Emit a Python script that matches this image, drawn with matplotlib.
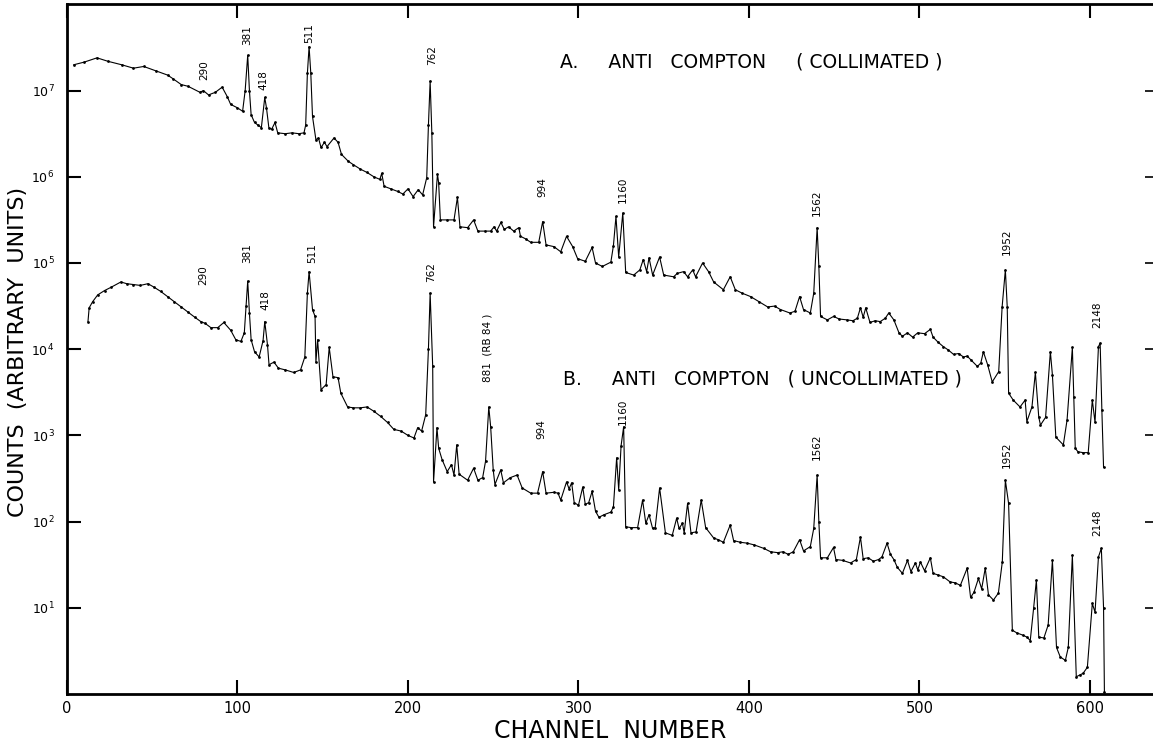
import numpy as np
import matplotlib
matplotlib.use("Agg")
import matplotlib.pyplot as plt

# ---------------- data ----------------
chan_a = [4, 10, 17.6, 24, 32, 39, 45, 52, 59, 62, 67, 71, 78, 80, 83, 87, 91, 94, 96, 100,
          103, 104.5, 106, 107, 108, 110, 112, 114, 116, 117, 118.4, 120, 122, 123.6, 128, 132,
          136, 139, 140, 141, 142, 143, 144, 146, 147.5, 149, 151, 152.5, 156.6, 159, 161, 165,
          168, 172, 176, 180, 183.5, 184.6, 186, 190, 194, 197, 200, 203, 206, 208.6, 211, 212,
          213, 214, 215, 217.3, 218, 219, 223, 227, 229, 230.5, 235, 238.5, 241, 245, 248.5,
          250.5, 252, 254.5, 256.5, 259, 262, 265, 266, 269, 272, 276.7, 279, 281, 285.6, 289.6,
          293, 296.6, 299.5, 304, 308, 310, 314, 319, 320.5, 322, 323.6, 326, 327.7, 332.4, 336,
          338, 340, 341.4, 343.5, 347.6, 350, 355.8, 358, 361.7, 364, 367, 368.7, 372.8, 376.3,
          379.3, 385, 389, 392, 396, 401, 406, 411, 415, 418.5, 424, 427, 429.7, 432, 436, 438,
          440, 441, 442, 446, 449.6, 453, 457.6, 461, 463.6, 465.4, 467, 468.5, 471, 474, 477,
          480, 482, 485, 488, 490, 493, 496, 499, 503, 506.4, 508, 511, 514, 517, 520, 523,
          525.8, 528, 530, 534, 536, 537.5, 540, 542.7, 546.5, 548.5, 550.4, 551.5, 552.3, 555,
          559, 562, 563, 566, 568, 570, 571, 574, 576.8, 578, 580, 584.4, 586.6, 589.7, 590.5,
          591.4, 593, 596, 599, 601.4, 603, 605, 606, 607, 608]
log_a = [7.30, 7.33, 7.38, 7.34, 7.30, 7.26, 7.28, 7.23, 7.18, 7.14, 7.07, 7.05, 6.98, 7.00,
         6.95, 6.98, 7.04, 6.93, 6.84, 6.80, 6.76, 7.00, 7.41, 7.00, 6.72, 6.63, 6.60, 6.57,
         6.92, 6.80, 6.57, 6.55, 6.63, 6.51, 6.50, 6.51, 6.50, 6.51, 6.60, 7.20, 7.51, 7.20,
         6.70, 6.43, 6.45, 6.34, 6.40, 6.35, 6.45, 6.40, 6.26, 6.18, 6.14, 6.09, 6.05, 6.00,
         5.97, 6.04, 5.89, 5.86, 5.83, 5.80, 5.86, 5.77, 5.85, 5.79, 5.99, 6.60, 7.11, 6.51,
         5.42, 6.03, 5.93, 5.50, 5.50, 5.50, 5.76, 5.42, 5.41, 5.50, 5.37, 5.37, 5.37, 5.42,
         5.37, 5.47, 5.39, 5.42, 5.37, 5.41, 5.31, 5.28, 5.24, 5.24, 5.48, 5.21, 5.19, 5.13,
         5.31, 5.19, 5.05, 5.02, 5.18, 5.00, 4.96, 5.01, 5.20, 5.54, 5.07, 5.58, 4.89, 4.86,
         4.92, 5.04, 4.90, 5.06, 4.86, 5.07, 4.86, 4.84, 4.88, 4.90, 4.84, 4.92, 4.84, 5.00,
         4.90, 4.78, 4.69, 4.84, 4.69, 4.65, 4.61, 4.55, 4.49, 4.50, 4.46, 4.42, 4.44, 4.61,
         4.46, 4.42, 4.65, 5.41, 4.96, 4.38, 4.34, 4.38, 4.35, 4.34, 4.33, 4.36, 4.48, 4.37,
         4.48, 4.31, 4.33, 4.32, 4.36, 4.42, 4.34, 4.19, 4.15, 4.19, 4.14, 4.19, 4.18, 4.23,
         4.14, 4.08, 4.03, 3.99, 3.94, 3.95, 3.91, 3.92, 3.88, 3.80, 3.84, 3.97, 3.82, 3.62,
         3.74, 4.49, 4.92, 4.49, 3.49, 3.41, 3.33, 3.41, 3.16, 3.33, 3.73, 3.21, 3.12, 3.21,
         3.97, 3.70, 2.98, 2.89, 3.18, 4.02, 3.45, 2.85, 2.81, 2.80, 2.80, 3.41, 3.15, 4.03,
         4.07, 3.30, 2.63]
counts_a = [10 ** v for v in log_a]

chan_b = [12.3, 13, 15, 18, 22, 26, 31.6, 35, 39, 43, 47.5, 51, 55, 59, 63, 67, 71, 75, 78.5,
          81, 84.4, 88.4, 92, 96, 99, 102, 104, 105, 106, 107, 108, 110, 112.7, 115, 116, 117.6,
          118.5, 121.4, 124, 128, 133, 137, 139.5, 141, 142, 144, 145.5, 146, 147, 149, 152,
          153.8, 156, 159, 160.6, 164.6, 168, 172, 176, 180, 184, 188, 191.7, 196, 200, 203.5,
          205.7, 208, 210.4, 212, 213, 214.5, 215, 217, 218, 220, 223, 225.5, 227, 228.6, 230,
          235, 238.5, 241, 243.8, 245.5, 247.4, 248.5, 250, 251, 254.4, 256, 260, 264, 267, 272,
          276, 279, 281, 285.6, 288, 289.6, 293, 294.5, 296, 297.5, 300, 302.5, 304, 306, 308,
          310, 312, 315, 319, 320.5, 322.4, 323.6, 325, 326.5, 327.7, 331, 334.7, 337.6, 339.5,
          341.4, 343.5, 345, 347.6, 351, 355, 357.6, 359, 361, 362, 364, 366, 369, 372, 374.6,
          379.3, 382, 385, 389, 391, 395, 399, 403, 408.6, 412.7, 416.8, 420, 423, 426, 429.7,
          432, 436, 438, 440, 441, 442, 446, 449.6, 451, 455, 459.6, 463, 465.4, 467, 470, 473,
          476, 478, 481, 483, 485, 487, 490, 493, 495, 497.6, 499, 500.6, 503, 506.4, 508, 511,
          514, 518, 521, 524, 528, 530, 532, 534.6, 536.5, 538.6, 540.5, 543.4, 546.3, 548.6,
          550.4, 552.3, 554.5, 557, 561, 563, 565, 567, 568.6, 570, 573, 575.5, 578, 580.4,
          582.6, 585.6, 587.3, 589.7, 592, 594, 596, 598.5, 601.4, 603, 605, 606.7, 608, 608.5]
log_b = [4.32, 4.48, 4.55, 4.63, 4.68, 4.72, 4.78, 4.76, 4.75, 4.74, 4.76, 4.72, 4.67, 4.61,
         4.55, 4.49, 4.43, 4.37, 4.32, 4.30, 4.25, 4.25, 4.31, 4.22, 4.11, 4.09, 4.19, 4.50,
         4.79, 4.42, 4.11, 3.97, 3.91, 4.10, 4.32, 4.05, 3.82, 3.85, 3.78, 3.76, 3.73, 3.76,
         3.91, 4.65, 4.90, 4.46, 4.38, 3.85, 4.11, 3.53, 3.59, 4.02, 3.68, 3.67, 3.49, 3.33,
         3.32, 3.32, 3.33, 3.28, 3.22, 3.15, 3.07, 3.05, 3.00, 2.97, 3.09, 3.05, 3.24, 4.00,
         4.65, 3.80, 2.46, 3.09, 2.85, 2.72, 2.58, 2.66, 2.54, 2.89, 2.55, 2.48, 2.62, 2.48,
         2.51, 2.70, 3.33, 3.10, 2.60, 2.43, 2.60, 2.45, 2.51, 2.54, 2.39, 2.33, 2.33, 2.58,
         2.33, 2.34, 2.33, 2.25, 2.46, 2.38, 2.45, 2.22, 2.19, 2.40, 2.20, 2.22, 2.35, 2.12,
         2.05, 2.08, 2.11, 2.17, 2.74, 2.37, 2.88, 3.10, 1.94, 1.93, 1.93, 2.25, 1.98, 2.08,
         1.92, 1.93, 2.39, 1.87, 1.84, 2.04, 1.92, 1.98, 1.87, 2.21, 1.87, 1.88, 2.25, 1.93,
         1.81, 1.79, 1.76, 1.96, 1.78, 1.76, 1.75, 1.73, 1.69, 1.65, 1.64, 1.65, 1.62, 1.65,
         1.79, 1.66, 1.71, 1.92, 2.54, 2.00, 1.58, 1.58, 1.70, 1.56, 1.55, 1.52, 1.56, 1.82,
         1.57, 1.58, 1.54, 1.56, 1.59, 1.75, 1.62, 1.56, 1.47, 1.40, 1.55, 1.42, 1.52, 1.44,
         1.53, 1.43, 1.58, 1.40, 1.38, 1.36, 1.30, 1.29, 1.26, 1.46, 1.12, 1.18, 1.34, 1.22,
         1.46, 1.15, 1.09, 1.17, 1.53, 2.48, 2.21, 0.74, 0.71, 0.68, 0.66, 0.62, 1.00, 1.32,
         0.66, 0.65, 0.80, 1.55, 0.54, 0.43, 0.39, 0.54, 1.61, 0.20, 0.22, 0.24, 0.31, 1.05,
         0.95, 1.59, 1.69, 1.00, 0.02]
counts_b = [10 ** v for v in log_b]

# peak labels: text, channel, count
labels_a = ["290", "381", "418", "511", "762", "994", "1160", "1562", "1952", "2148"]
lab_a_x = [80.3, 105.5, 115.5, 141.9, 214, 279, 326, 439.6, 551, 604.3]
lab_a_y = [10 ** 7.24, 10 ** 7.645, 10 ** 7.12, 10 ** 7.67, 10 ** 7.41,
           10 ** 5.88, 10 ** 5.85, 10 ** 5.70, 10 ** 5.245, 10 ** 4.40]
labels_b = ["290", "381", "418", "511", "762", "881  (RB 84 )", "994", "1160", "1562", "1952", "2148"]
lab_b_x = [79.7, 105.5, 116.6, 143.6, 213.4, 246.8, 278.4, 326, 439.6, 551, 604.3]
lab_b_y = [10 ** 4.86, 10 ** 5.12, 10 ** 4.57, 10 ** 5.12, 10 ** 4.90, 10 ** 4.02,
           10 ** 3.07, 10 ** 3.27, 10 ** 2.87, 10 ** 2.78, 10 ** 1.99]

title_a = "A.     ANTI   COMPTON     ( COLLIMATED )"
title_b = "B.     ANTI   COMPTON   ( UNCOLLIMATED )"
xlabel = "CHANNEL  NUMBER"
ylabel = "COUNTS  (ARBITRARY  UNITS)"
xticks = [0, 100, 200, 300, 400, 500, 600]
yticks = [1e1, 1e2, 1e3, 1e4, 1e5, 1e6, 1e7]

# ---------------- figure ----------------
plt.rcParams['font.family'] = ['DejaVu Sans']
W, H = 1153, 742
fig = plt.figure(figsize=(W / 100, H / 100), dpi=100)
ax = fig.add_axes([67 / W, 48 / H, (W - 67) / W, (694 - 4.4) / H])

ax.plot(chan_a, counts_a, color='black', lw=0.8, marker='o', ms=2.0, mew=0)
ax.plot(chan_b, counts_b, color='black', lw=0.8, marker='o', ms=2.0, mew=0)

ax.set_yscale('log')
ax.set_xlim(0, 637)
ax.set_ylim(1, 1e8)
ax.set_xticks(xticks)
ax.set_xticklabels([str(t) for t in xticks], fontsize=10.5)
ax.set_yticks(yticks)
ax.yaxis.set_minor_locator(matplotlib.ticker.NullLocator())
ax.tick_params(axis='x', direction='in', length=10, width=1.5, top=True, pad=5)
ax.tick_params(axis='y', direction='in', length=10, width=1.5, labelsize=9, pad=9)

for s in ['left', 'bottom', 'top']:
    ax.spines[s].set_linewidth(2)
ax.spines['right'].set_visible(False)

# right-hand short ticks
ax2 = ax.twinx()
ax2.set_yscale('log')
ax2.set_ylim(1, 1e8)
ax2.set_yticks(yticks)
ax2.yaxis.set_minor_locator(matplotlib.ticker.NullLocator())
ax2.tick_params(axis='y', direction='in', length=6, width=1.2, labelright=False)
for s in ax2.spines.values():
    s.set_visible(False)

for t, x, y in zip(labels_a, lab_a_x, lab_a_y):
    ax.text(x, y, t, rotation=90, ha='center', va='center', fontsize=7.5)
for t, x, y in zip(labels_b, lab_b_x, lab_b_y):
    ax.text(x, y, t, rotation=90, ha='center', va='center', fontsize=7.5)

ax.text(289, 10 ** 7.33, title_a, ha='left', va='center', fontsize=13.5)
ax.text(290.7, 10 ** 3.65, title_b, ha='left', va='center', fontsize=13.5)

fig.text(610 / W, 1 - 731 / H, xlabel, ha='center', va='center', fontsize=17)
fig.text(18 / W, 1 - 352 / H, ylabel, ha='center', va='center',
         rotation=90, fontsize=16)

fig.savefig("out.png", dpi=100)
